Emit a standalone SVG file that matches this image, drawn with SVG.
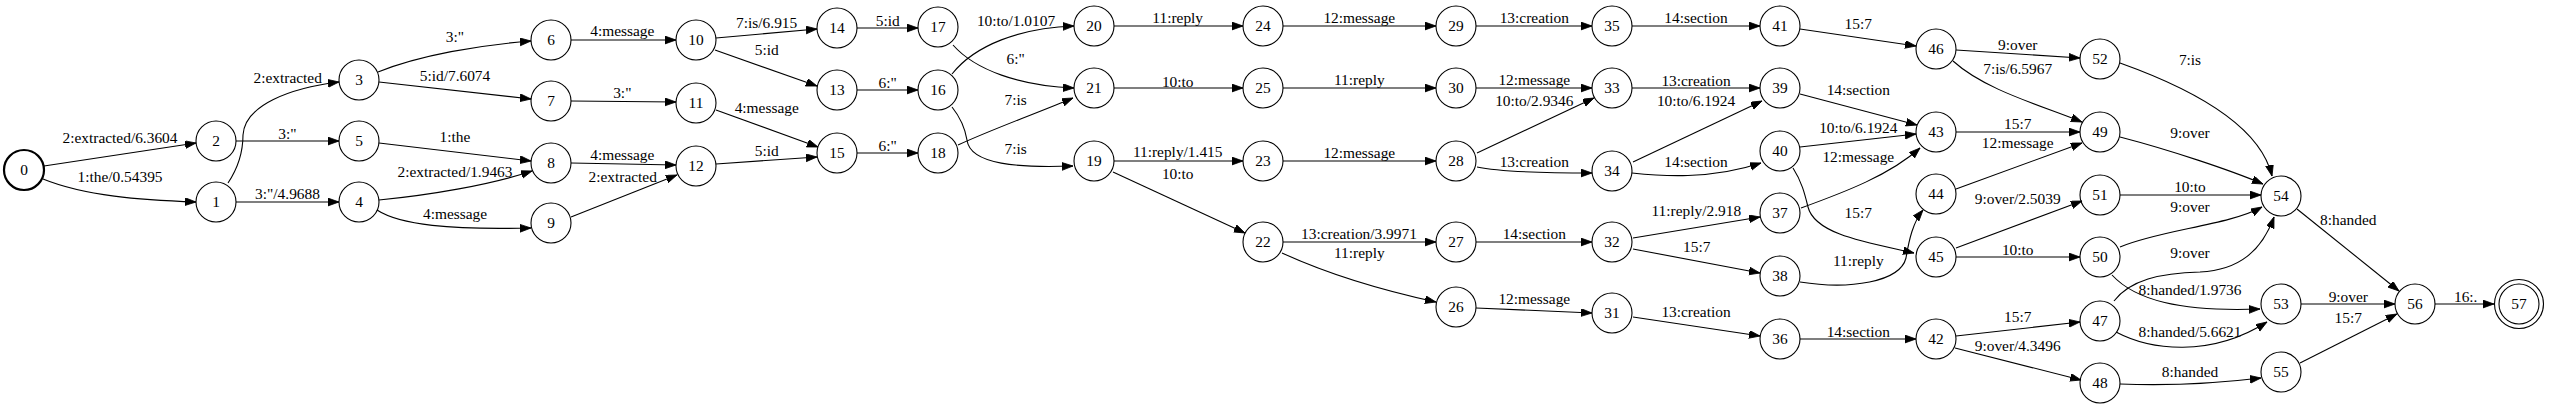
<svg xmlns="http://www.w3.org/2000/svg" width="2550" height="409" viewBox="0 0 2550 409">
<style>
.n circle{fill:none;stroke:#000;stroke-width:1.1}
.n text,.e text{font-family:"Liberation Serif","Times New Roman",serif;font-size:15.4px;text-anchor:middle;fill:#000}
.e path{fill:none;stroke:#000;stroke-width:1.1;marker-end:url(#ah)}
</style>
<defs>
<marker id="ah" markerUnits="userSpaceOnUse" markerWidth="12" markerHeight="9" refX="11" refY="3.9" orient="auto">
<path d="M0,0 L11,3.9 L0,7.8 z" fill="#000" stroke="#000" stroke-width="0.8"/>
</marker>
</defs>
<rect width="2550" height="409" fill="#fff"/>
<g id="edges" class="e">
<path d="M44,166 L196,143"/><text x="120" y="142.5">2:extracted/6.3604</text>
<path d="M43,179 C85,196 140,200 196,202"/><text x="120" y="182">1:the/0.54395</text>
<path d="M228,183 C240,165 243,150 243,135 C245,105 290,88 339,82"/><text x="287.7" y="83.3">2:extracted</text>
<path d="M236,141 L339,141"/><text x="287.5" y="138.5">3:"</text>
<path d="M236,202 L339,202"/><text x="287.5" y="199">3:"/4.9688</text>
<path d="M378,72 C420,55 480,45 531,41"/><text x="455" y="41.7">3:"</text>
<path d="M379,82 L531,99"/><text x="455" y="81">5:id/7.6074</text>
<path d="M379,143 L531,161"/><text x="455" y="141.7">1:the</text>
<path d="M379,200 C430,195 490,185 532,171"/><text x="455" y="176.7">2:extracted/1.9463</text>
<path d="M377,210 C400,225 450,230 531,228"/><text x="455" y="219">4:message</text>
<path d="M571,40 L676,40"/><text x="622.3" y="36">4:message</text>
<path d="M571,101 L676,102"/><text x="622.3" y="98.3">3:"</text>
<path d="M571,163 L676,165"/><text x="622.3" y="159.5">4:message</text>
<path d="M571,217 L677,175"/><text x="622.7" y="181.7">2:extracted</text>
<path d="M716,38 L817,29"/><text x="766.7" y="27.7">7:is/6.915</text>
<path d="M715,50 L817,86"/><text x="766.7" y="55">5:id</text>
<path d="M716,110 L818,147"/><text x="766.7" y="113">4:message</text>
<path d="M716,164 L817,157"/><text x="766.7" y="156">5:id</text>
<path d="M857,28 L918,28"/><text x="887.7" y="25.7">5:id</text>
<path d="M857,90 L918,90"/><text x="887.7" y="87.7">6:"</text>
<path d="M857,153 L918,153"/><text x="887.7" y="150.7">6:"</text>
<path d="M952,74 C975,45 1020,28 1074,26"/><text x="1016" y="25.7">10:to/1.0107</text>
<path d="M953,45 C975,70 1020,86 1074,88"/><text x="1015.7" y="64.3">6:"</text>
<path d="M958,145 C995,128 1040,112 1073,98"/><text x="1015.7" y="105">7:is</text>
<path d="M952,107 C960,117 965,128 967,140 C970,165 1020,168 1073,166"/><text x="1015.7" y="154.3">7:is</text>
<path d="M1114,26 L1243,26"/><text x="1177.7" y="23">11:reply</text>
<path d="M1114,88 L1243,88"/><text x="1177.7" y="86.7">10:to</text>
<path d="M1114,161 L1243,161"/><text x="1177.7" y="157">11:reply/1.415</text>
<path d="M1113,172 L1245,233"/><text x="1177.7" y="179.3">10:to</text>
<path d="M1283,26 L1436,26"/><text x="1359.3" y="23.3">12:message</text>
<path d="M1283,88 L1436,88"/><text x="1359.3" y="85.3">11:reply</text>
<path d="M1283,161 L1436,161"/><text x="1359.3" y="157.5">12:message</text>
<path d="M1283,242 L1436,242"/><text x="1359" y="239.3">13:creation/3.9971</text>
<path d="M1282,253 C1330,275 1390,292 1436,302"/><text x="1359.3" y="258">11:reply</text>
<path d="M1476,26 L1592,26"/><text x="1534.3" y="23.3">13:creation</text>
<path d="M1476,88 L1592,88"/><text x="1534.3" y="85.3">12:message</text>
<path d="M1477,153 L1594,98"/><text x="1534.3" y="105.7">10:to/2.9346</text>
<path d="M1477,167 C1500,172 1540,173 1592,173"/><text x="1534.3" y="167.3">13:creation</text>
<path d="M1476,242 L1592,242"/><text x="1534.3" y="239.3">14:section</text>
<path d="M1476,308 L1592,313"/><text x="1534.3" y="304">12:message</text>
<path d="M1632,26 L1760,26"/><text x="1696" y="23.3">14:section</text>
<path d="M1632,88 L1760,88"/><text x="1696" y="86">13:creation</text>
<path d="M1633,162 L1762,101"/><text x="1696" y="105.7">10:to/6.1924</text>
<path d="M1632,173 C1660,176 1710,180 1761,163"/><text x="1696" y="167.3">14:section</text>
<path d="M1633,238 L1760,217"/><text x="1696.3" y="216">11:reply/2.918</text>
<path d="M1633,249 L1760,273"/><text x="1696.7" y="251.7">15:7</text>
<path d="M1633,317 L1760,336"/><text x="1696" y="317.3">13:creation</text>
<path d="M1800,29 L1916,46"/><text x="1858.3" y="29">15:7</text>
<path d="M1800,94 L1917,125"/><text x="1858.3" y="95">14:section</text>
<path d="M1800,147 L1916,134"/><text x="1858.3" y="133.3">10:to/6.1924</text>
<path d="M1801,208 C1845,192 1890,175 1920,148"/><text x="1858.3" y="162">12:message</text>
<path d="M1793,168 C1802,182 1805,195 1808,207 C1815,235 1870,243 1914,253"/><text x="1858.3" y="218.3">15:7</text>
<path d="M1800,282 C1850,290 1900,282 1906,258 C1909,240 1913,222 1923,210"/><text x="1858.3" y="265.5">11:reply</text>
<path d="M1800,339 L1916,339"/><text x="1858.3" y="337.3">14:section</text>
<path d="M1956,50 L2080,58"/><text x="2017.7" y="50">9:over</text>
<path d="M1953,61 C1985,90 2040,105 2082,122"/><text x="2017.7" y="74">7:is/6.5967</text>
<path d="M1956,132 L2080,132"/><text x="2017.7" y="129">15:7</text>
<path d="M1956,189 L2082,143"/><text x="2017.7" y="148">12:message</text>
<path d="M1956,248 L2082,201"/><text x="2017.7" y="204">9:over/2.5039</text>
<path d="M1956,257 L2080,257"/><text x="2017.7" y="255">10:to</text>
<path d="M1956,336 L2080,322"/><text x="2017.7" y="321.7">15:7</text>
<path d="M1955,348 L2081,380"/><text x="2017.7" y="351">9:over/4.3496</text>
<path d="M2120,63 C2190,88 2260,125 2272,176"/><text x="2190" y="65">7:is</text>
<path d="M2120,137 C2170,150 2230,170 2263,184"/><text x="2190" y="138.3">9:over</text>
<path d="M2120,195 L2261,195"/><text x="2190" y="192.3">10:to</text>
<path d="M2120,247 C2160,230 2230,225 2262,207"/><text x="2190" y="212.3">9:over</text>
<path d="M2114,301 C2130,280 2160,273 2200,272 C2240,270 2262,250 2274,217"/><text x="2190" y="258.3">9:over</text>
<path d="M2112,275 C2135,300 2180,312 2260,309"/><text x="2190" y="295">8:handed/1.9736</text>
<path d="M2116,332 C2150,350 2210,358 2267,322"/><text x="2190" y="336.7">8:handed/5.6621</text>
<path d="M2120,384 C2170,386 2220,383 2261,378"/><text x="2190" y="377.3">8:handed</text>
<path d="M2297,209 L2399,291"/><text x="2348.3" y="225">8:handed</text>
<path d="M2301,304 L2395,304"/><text x="2348.3" y="301.7">9:over</text>
<path d="M2300,363 L2397,314"/><text x="2348.3" y="322.7">15:7</text>
<path d="M2435,304 L2494,304"/><text x="2465.7" y="301.7">16:.</text>
</g>
<g id="node0" class="n"><circle cx="24" cy="170" r="20" style="stroke-width:2.2"/><text x="24" y="175">0</text></g>
<g id="node1" class="n"><circle cx="216" cy="202" r="20"/><text x="216" y="207">1</text></g>
<g id="node2" class="n"><circle cx="216" cy="141" r="20"/><text x="216" y="146">2</text></g>
<g id="node3" class="n"><circle cx="359" cy="80" r="20"/><text x="359" y="85">3</text></g>
<g id="node4" class="n"><circle cx="359" cy="202" r="20"/><text x="359" y="207">4</text></g>
<g id="node5" class="n"><circle cx="359" cy="141" r="20"/><text x="359" y="146">5</text></g>
<g id="node6" class="n"><circle cx="551" cy="40" r="20"/><text x="551" y="45">6</text></g>
<g id="node7" class="n"><circle cx="551" cy="101" r="20"/><text x="551" y="106">7</text></g>
<g id="node8" class="n"><circle cx="551" cy="163" r="20"/><text x="551" y="168">8</text></g>
<g id="node9" class="n"><circle cx="551" cy="223" r="20"/><text x="551" y="228">9</text></g>
<g id="node10" class="n"><circle cx="696" cy="40" r="20"/><text x="696" y="45">10</text></g>
<g id="node11" class="n"><circle cx="696" cy="103" r="20"/><text x="696" y="108">11</text></g>
<g id="node12" class="n"><circle cx="696" cy="166" r="20"/><text x="696" y="171">12</text></g>
<g id="node13" class="n"><circle cx="837" cy="90" r="20"/><text x="837" y="95">13</text></g>
<g id="node14" class="n"><circle cx="837" cy="28" r="20"/><text x="837" y="33">14</text></g>
<g id="node15" class="n"><circle cx="837" cy="153" r="20"/><text x="837" y="158">15</text></g>
<g id="node16" class="n"><circle cx="938" cy="90" r="20"/><text x="938" y="95">16</text></g>
<g id="node17" class="n"><circle cx="938" cy="27" r="20"/><text x="938" y="32">17</text></g>
<g id="node18" class="n"><circle cx="938" cy="153" r="20"/><text x="938" y="158">18</text></g>
<g id="node19" class="n"><circle cx="1094" cy="161" r="20"/><text x="1094" y="166">19</text></g>
<g id="node20" class="n"><circle cx="1094" cy="26" r="20"/><text x="1094" y="31">20</text></g>
<g id="node21" class="n"><circle cx="1094" cy="88" r="20"/><text x="1094" y="93">21</text></g>
<g id="node22" class="n"><circle cx="1263" cy="242" r="20"/><text x="1263" y="247">22</text></g>
<g id="node23" class="n"><circle cx="1263" cy="161" r="20"/><text x="1263" y="166">23</text></g>
<g id="node24" class="n"><circle cx="1263" cy="26" r="20"/><text x="1263" y="31">24</text></g>
<g id="node25" class="n"><circle cx="1263" cy="88" r="20"/><text x="1263" y="93">25</text></g>
<g id="node26" class="n"><circle cx="1456" cy="307" r="20"/><text x="1456" y="312">26</text></g>
<g id="node27" class="n"><circle cx="1456" cy="242" r="20"/><text x="1456" y="247">27</text></g>
<g id="node28" class="n"><circle cx="1456" cy="161" r="20"/><text x="1456" y="166">28</text></g>
<g id="node29" class="n"><circle cx="1456" cy="26" r="20"/><text x="1456" y="31">29</text></g>
<g id="node30" class="n"><circle cx="1456" cy="88" r="20"/><text x="1456" y="93">30</text></g>
<g id="node31" class="n"><circle cx="1612" cy="313" r="20"/><text x="1612" y="318">31</text></g>
<g id="node32" class="n"><circle cx="1612" cy="242" r="20"/><text x="1612" y="247">32</text></g>
<g id="node33" class="n"><circle cx="1612" cy="88" r="20"/><text x="1612" y="93">33</text></g>
<g id="node34" class="n"><circle cx="1612" cy="171" r="20"/><text x="1612" y="176">34</text></g>
<g id="node35" class="n"><circle cx="1612" cy="26" r="20"/><text x="1612" y="31">35</text></g>
<g id="node36" class="n"><circle cx="1780" cy="339" r="20"/><text x="1780" y="344">36</text></g>
<g id="node37" class="n"><circle cx="1780" cy="213" r="20"/><text x="1780" y="218">37</text></g>
<g id="node38" class="n"><circle cx="1780" cy="276" r="20"/><text x="1780" y="281">38</text></g>
<g id="node39" class="n"><circle cx="1780" cy="88" r="20"/><text x="1780" y="93">39</text></g>
<g id="node40" class="n"><circle cx="1780" cy="151" r="20"/><text x="1780" y="156">40</text></g>
<g id="node41" class="n"><circle cx="1780" cy="26" r="20"/><text x="1780" y="31">41</text></g>
<g id="node42" class="n"><circle cx="1936" cy="339" r="20"/><text x="1936" y="344">42</text></g>
<g id="node43" class="n"><circle cx="1936" cy="132" r="20"/><text x="1936" y="137">43</text></g>
<g id="node44" class="n"><circle cx="1936" cy="194" r="20"/><text x="1936" y="199">44</text></g>
<g id="node45" class="n"><circle cx="1936" cy="257" r="20"/><text x="1936" y="262">45</text></g>
<g id="node46" class="n"><circle cx="1936" cy="49" r="20"/><text x="1936" y="54">46</text></g>
<g id="node47" class="n"><circle cx="2100" cy="321" r="20"/><text x="2100" y="326">47</text></g>
<g id="node48" class="n"><circle cx="2100" cy="383" r="20"/><text x="2100" y="388">48</text></g>
<g id="node49" class="n"><circle cx="2100" cy="132" r="20"/><text x="2100" y="137">49</text></g>
<g id="node50" class="n"><circle cx="2100" cy="257" r="20"/><text x="2100" y="262">50</text></g>
<g id="node51" class="n"><circle cx="2100" cy="195" r="20"/><text x="2100" y="200">51</text></g>
<g id="node52" class="n"><circle cx="2100" cy="59" r="20"/><text x="2100" y="64">52</text></g>
<g id="node53" class="n"><circle cx="2281" cy="304" r="20"/><text x="2281" y="309">53</text></g>
<g id="node54" class="n"><circle cx="2281" cy="196" r="20"/><text x="2281" y="201">54</text></g>
<g id="node55" class="n"><circle cx="2281" cy="372" r="20"/><text x="2281" y="377">55</text></g>
<g id="node56" class="n"><circle cx="2415" cy="304" r="20"/><text x="2415" y="309">56</text></g>
<g id="node57" class="n"><circle cx="2519" cy="304" r="20"/><circle cx="2519" cy="304" r="24.5"/><text x="2519" y="309">57</text></g>
</svg>
